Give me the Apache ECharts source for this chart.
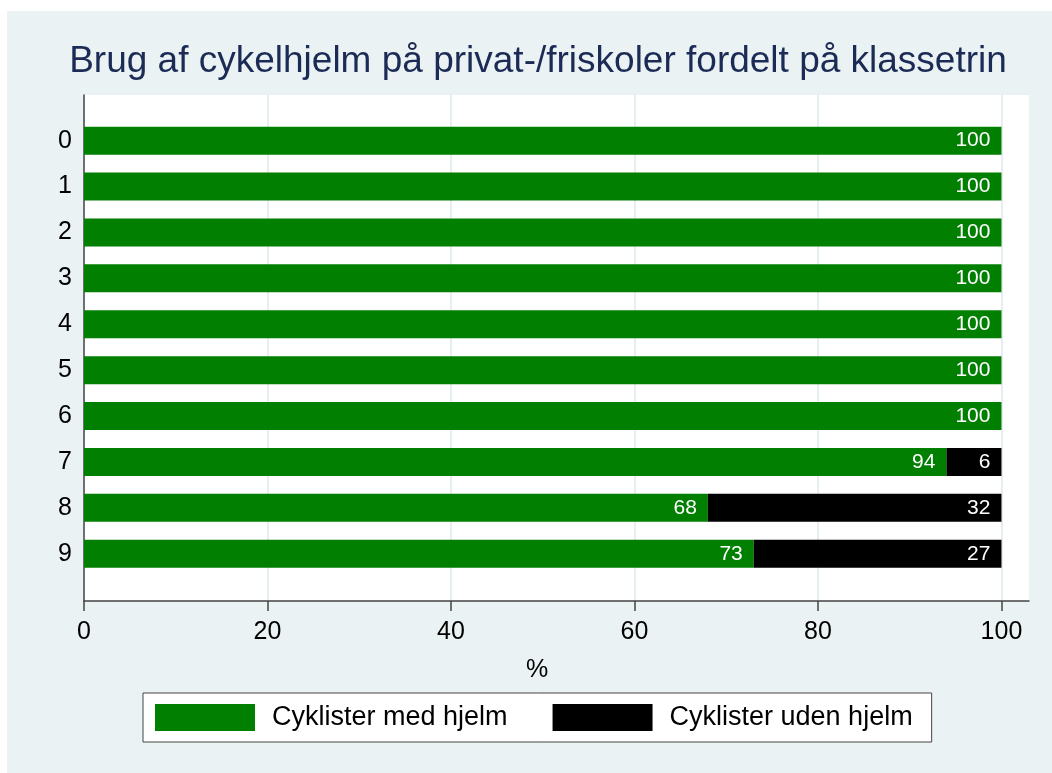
<!DOCTYPE html>
<html>
<head>
<meta charset="utf-8">
<script src="https://cdn.jsdelivr.net/npm/echarts@6/dist/echarts.min.js"></script>
<style>
html,body{margin:0;padding:0;background:#ffffff;width:1052px;height:773px;overflow:hidden;}
#chart{position:absolute;left:7px;top:11px;width:1045px;height:762px;}
</style>
</head>
<body>
<div id="chart"></div>
<script>
const categories = ['0','1','2','3','4','5','6','7','8','9'];
const withHelmet = [100,100,100,100,100,100,100,94,68,73];
const withoutHelmet = [0,0,0,0,0,0,0,6,32,27];
const xTicks = [0,20,40,60,80,100];
const seriesNames = ['Cyklister med hjelm','Cyklister uden hjelm'];
const titleText = 'Brug af cykelhjelm på privat-/friskoler fordelt på klassetrin';

const FONT = '"Liberation Sans", Arial, sans-serif';
const chart = echarts.init(document.getElementById('chart'), null, {renderer:'canvas'});

const labelCfg = {
  show: true,
  position: 'insideRight',
  distance: 11,
  color: '#ffffff',
  fontSize: 21,
  fontFamily: FONT,
  padding: [4, 0, 0, 0],
  formatter: p => (p.value ? String(p.value) : '')
};

chart.setOption({
  backgroundColor: '#EAF2F3',
  animation: false,
  title: {
    text: titleText,
    left: 531,
    top: 32,
    padding: 0,
    textAlign: 'center',
    textStyle: {color:'#1C2B55', fontSize:37, fontWeight:'normal', fontFamily:FONT}
  },
  legend: {
    data: seriesNames,
    left: 136,
    top: 682,
    orient: 'horizontal',
    itemWidth: 100,
    itemHeight: 27,
    itemGap: 45,
    padding: [11, 19, 11, 12],
    backgroundColor: '#ffffff',
    borderColor: '#444444',
    borderWidth: 1,
    borderRadius: 0,
    icon: 'rect',
    selectedMode: false,
    textStyle: {color:'#000000', fontSize:27, fontFamily:FONT, padding:[0,0,0,12]}
  },
  grid: [
    {left:77, right:23, top:84, bottom:172, show:true, backgroundColor:'#ffffff', borderWidth:0, containLabel:false},
    {left:77, right:23, top:106.7, bottom:196.3, show:false, containLabel:false}
  ],
  xAxis: [
    {
      gridIndex: 0, type: 'value', min: 0, max: 103, interval: 20,
      name: '%', nameLocation: 'middle', nameGap: 57,
      nameTextStyle: {color:'#000000', fontSize:25, fontFamily:FONT, padding:[0,39,0,0]},
      axisLine: {show:true, lineStyle:{color:'#444444', width:1.5}},
      axisTick: {show:true, length:10, inside:false, customValues: xTicks, lineStyle:{color:'#444444', width:1.5}},
      axisLabel: {show:true, customValues: xTicks, margin:19, color:'#000000', fontSize:25, fontFamily:FONT},
      splitLine: {show:true, lineStyle:{color:'#E6EEF1', width:2}}
    },
    {
      gridIndex: 1, type: 'value', min: 0, max: 103, show: false,
      splitLine: {show:false}
    }
  ],
  yAxis: [
    {
      gridIndex: 0, type: 'value', min: 0, max: 1,
      axisLine: {show:true, onZero:false, lineStyle:{color:'#444444', width:1.5}},
      axisTick: {show:false}, axisLabel: {show:false}, splitLine: {show:false}
    },
    {
      gridIndex: 1, type: 'category', data: categories, inverse: true,
      axisLine: {show:false}, axisTick: {show:false}, splitLine: {show:false},
      axisLabel: {show:true, margin:12, color:'#000000', fontSize:25, fontFamily:FONT, padding:[6,0,0,0]}
    }
  ],
  series: [
    {
      name: seriesNames[0], type: 'bar', xAxisIndex: 1, yAxisIndex: 1, stack: 'total',
      barWidth: 28, data: withHelmet,
      itemStyle: {color:'#007F00'},
      label: labelCfg
    },
    {
      name: seriesNames[1], type: 'bar', xAxisIndex: 1, yAxisIndex: 1, stack: 'total',
      barWidth: 28, data: withoutHelmet,
      itemStyle: {color:'#000000'},
      label: labelCfg
    }
  ]
});
</script>
</body>
</html>
